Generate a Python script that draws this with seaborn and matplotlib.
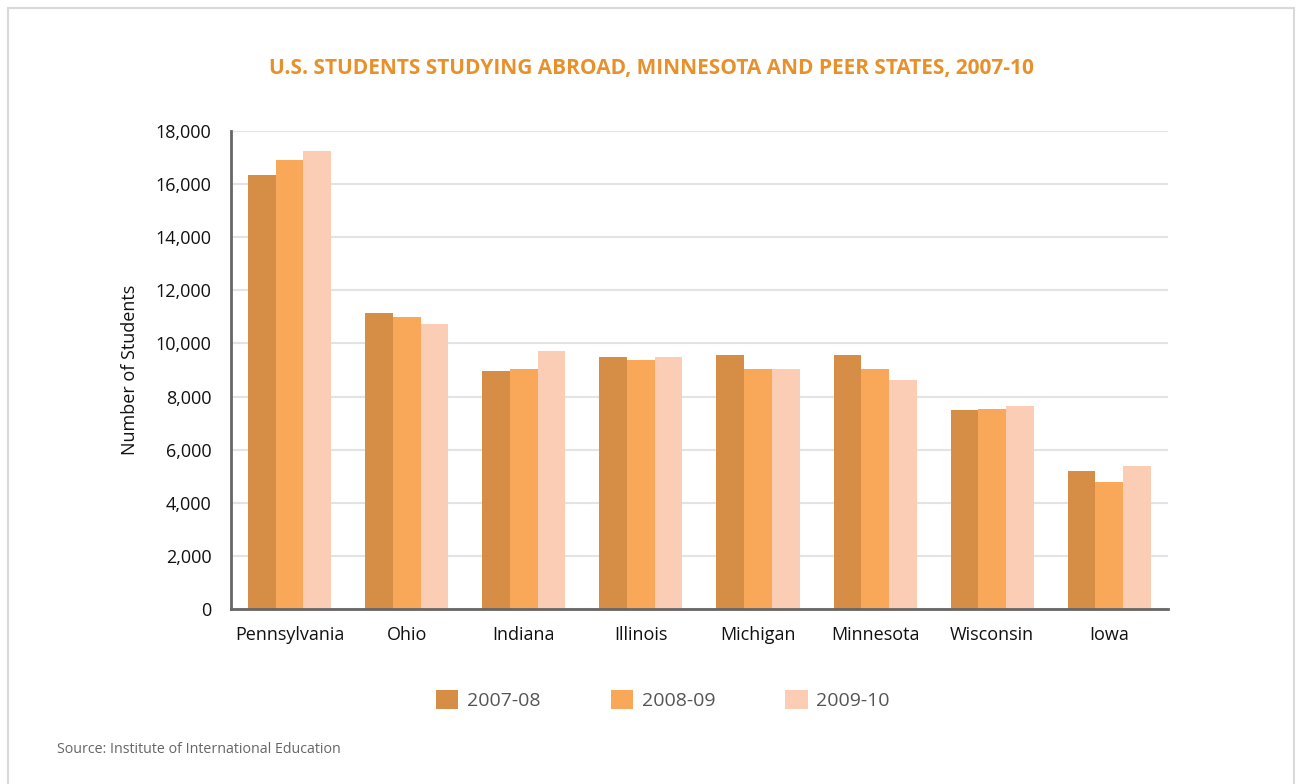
import pandas as pd
import matplotlib.pyplot as plt
import seaborn as sns
from matplotlib.patches import Rectangle
from matplotlib.ticker import FuncFormatter, MultipleLocator

# Data
states = ["Pennsylvania", "Ohio", "Indiana", "Illinois", "Michigan",
          "Minnesota", "Wisconsin", "Iowa"]
years = ["2007-08", "2008-09", "2009-10"]
y2007_08 = [16340, 11150, 8960, 9490, 9560, 9560, 7490, 5200]
y2008_09 = [16900, 10990, 9040, 9380, 9040, 9040, 7530, 4780]
y2009_10 = [17240, 10730, 9710, 9490, 9040, 8620, 7640, 5380]
colors = ["#D68E47", "#F9A758", "#FBCDB5"]

df = pd.DataFrame({"state": states, years[0]: y2007_08,
                   years[1]: y2008_09, years[2]: y2009_10})
df = df.melt(id_vars="state", var_name="year", value_name="students")

sns.set_theme(style="white")
plt.rcParams["font.family"] = ["Open Sans", "DejaVu Sans"]

fig = plt.figure(figsize=(13.02, 7.84), dpi=100)
ax = fig.add_axes([0.1774, 0.2232, 0.7196, 0.6097])

sns.barplot(data=df, x="state", y="students", hue="year", palette=colors,
            width=0.71, gap=0, saturation=1, linewidth=0, ax=ax, legend=True)

ax.set_ylim(0, 18000)
ax.set_xlim(-0.5, len(states) - 0.5)
ax.yaxis.set_major_locator(MultipleLocator(2000))
ax.yaxis.set_major_formatter(FuncFormatter(lambda v, p: f"{int(v):,}"))
ax.yaxis.grid(True, color="#E3E3E3", linewidth=1.5)
ax.set_axisbelow(True)

for s in ["top", "right"]:
    ax.spines[s].set_visible(False)
for s in ["left", "bottom"]:
    ax.spines[s].set_color("#666666")
    ax.spines[s].set_linewidth(2)

ax.tick_params(axis="y", length=0, labelsize=13, pad=14, labelcolor="#111111")
ax.tick_params(axis="x", length=0, labelsize=13, pad=12, labelcolor="#111111")
ax.set_xticks(range(len(states)), minor=False)
ax.set_xticks([i + 0.5 for i in range(len(states))], minor=True)
ax.tick_params(axis="x", which="minor", length=5, width=2, color="#666666",
               direction="out")

ax.set_xlabel("")
ax.set_ylabel("Number of Students", fontsize=13, color="#111111", labelpad=12)

leg = ax.legend(loc="center", bbox_to_anchor=(0.461, -0.19), ncol=3,
                frameon=False, fontsize=14, handlelength=1.15, handleheight=1.15,
                columnspacing=3.6, handletextpad=0.45)
for t in leg.get_texts():
    t.set_color("#555555")

fig.text(0.5, 0.913, "U.S. STUDENTS STUDYING ABROAD, MINNESOTA AND PEER STATES, 2007-10",
         ha="center", va="center", fontsize=15, fontweight="bold", color="#E8902A")
fig.text(0.044, 0.044, "Source: Institute of International Education",
         ha="left", va="center", fontsize=10.3, color="#666666")

fig.patches.append(Rectangle((0.006, -0.01), 0.988, 1.0, transform=fig.transFigure,
                             fill=False, edgecolor="#D9D9D9", linewidth=1.5))

fig.savefig("out.png", dpi=100)
